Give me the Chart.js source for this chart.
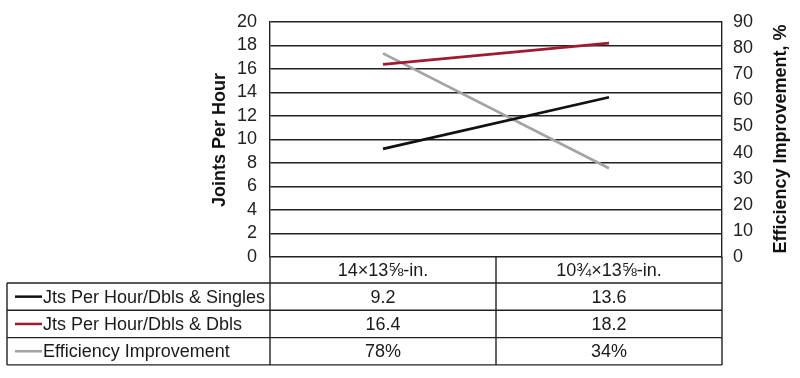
<!DOCTYPE html>
<html>
<head>
<meta charset="utf-8">
<script src="https://cdn.jsdelivr.net/npm/chart.js@4/dist/chart.umd.min.js"></script>
<style>
  html, body { margin: 0; padding: 0; background: #fff; }
  #wrap { width: 800px; height: 378px; }
</style>
</head>
<body>
<div id="wrap"><canvas id="c" width="800" height="378"></canvas></div>
<script>
// data
const categories = ['14×13⅝-in.', '10¾×13⅝-in.'];
const seriesNames = ['Jts Per Hour/Dbls & Singles', 'Jts Per Hour/Dbls & Dbls', 'Efficiency Improvement'];
const jtsSingles = [9.2, 13.6];
const jtsDoubles = [16.4, 18.2];
const efficiency = [78, 34];
const tableRows = [
  jtsSingles.map(v => v.toFixed(1)),
  jtsDoubles.map(v => v.toFixed(1)),
  efficiency.map(v => v + '%')
];

const FONT = '"Liberation Sans", Arial, Helvetica, sans-serif';
const colors = ['#111111', '#9e1c32', '#a3a3a3'];

// table + rotated axis titles
const tablePlugin = {
  id: 'dataTable',
  afterDraw(chart) {
    const ctx = chart.ctx;
    const area = chart.chartArea;
    const xs = chart.scales.x;
    const centers = categories.map((c, i) => xs.getPixelForValue(i));
    const edges = [area.left];
    for (let i = 0; i < centers.length - 1; i++) edges.push((centers[i] + centers[i + 1]) / 2);
    edges.push(area.right);

    const tableLeft = 7;
    const headTop = area.bottom;
    const headBottom = 283;
    const rowH = 27.3;
    const tableBottom = headBottom + rowH * tableRows.length;

    ctx.save();
    ctx.strokeStyle = '#222';
    ctx.lineWidth = 1.4;
    ctx.beginPath();
    edges.forEach(x => { ctx.moveTo(x, headTop); ctx.lineTo(x, tableBottom); });
    for (let r = 0; r <= tableRows.length; r++) {
      const y = headBottom + r * rowH;
      ctx.moveTo(tableLeft, y); ctx.lineTo(area.right, y);
    }
    ctx.moveTo(tableLeft, headBottom); ctx.lineTo(tableLeft, tableBottom);
    ctx.stroke();

    ctx.fillStyle = '#1a1a1a';
    ctx.font = '18px ' + FONT;
    ctx.textBaseline = 'middle';
    ctx.textAlign = 'center';
    categories.forEach((c, i) => ctx.fillText(c, centers[i], (headTop + headBottom) / 2 + 1));
    tableRows.forEach((row, r) => {
      const yMid = headBottom + r * rowH + rowH / 2 + 1;
      row.forEach((v, i) => ctx.fillText(v, centers[i], yMid));
    });

    // legend cells
    ctx.textAlign = 'left';
    seriesNames.forEach((name, r) => {
      const yMid = headBottom + r * rowH + rowH / 2;
      ctx.strokeStyle = colors[r];
      ctx.lineWidth = 2.5;
      ctx.beginPath();
      ctx.moveTo(15, yMid); ctx.lineTo(42, yMid);
      ctx.stroke();
      ctx.fillStyle = '#1a1a1a';
      ctx.fillText(name, 43, yMid + 1);
    });

    // axis titles, both reading bottom to top
    ctx.font = 'bold 18px ' + FONT;
    ctx.textAlign = 'center';
    ctx.fillStyle = '#111';
    ctx.save();
    ctx.translate(220, 140);
    ctx.rotate(-Math.PI / 2);
    ctx.fillText('Joints Per Hour', 0, 0);
    ctx.restore();
    ctx.save();
    ctx.translate(781, 139);
    ctx.rotate(-Math.PI / 2);
    ctx.fillText('Efficiency Improvement, %', 0, 0);
    ctx.restore();
    ctx.restore();
  }
};

new Chart(document.getElementById('c'), {
  type: 'line',
  data: {
    labels: categories,
    datasets: [
      { label: seriesNames[0], data: jtsSingles, yAxisID: 'y', borderColor: colors[0], borderWidth: 2.7 },
      { label: seriesNames[1], data: jtsDoubles, yAxisID: 'y', borderColor: colors[1], borderWidth: 2.7 },
      { label: seriesNames[2], data: efficiency, yAxisID: 'y2', borderColor: colors[2], borderWidth: 2.7 }
    ]
  },
  options: {
    responsive: false,
    animation: false,
    elements: { point: { radius: 0 }, line: { tension: 0 } },
    layout: { padding: { left: 0, right: 0, top: 20, bottom: 121 } },
    plugins: { legend: { display: false }, tooltip: { enabled: false } },
    scales: {
      x: { display: false, offset: true },
      y: {
        position: 'left', min: 0, max: 20,
        ticks: { stepSize: 2, autoSkip: false, color: '#222', padding: 13, font: { family: FONT, size: 18, lineHeight: 1 } },
        grid: { color: '#222', lineWidth: 1.4, drawTicks: false },
        border: { display: true, color: '#222', width: 1.4 },
        afterFit(s) { s.width = 270; }
      },
      y2: {
        position: 'right', min: 0, max: 90,
        ticks: { stepSize: 10, autoSkip: false, color: '#222', padding: 11, font: { family: FONT, size: 18, lineHeight: 1 } },
        grid: { display: false, drawTicks: false },
        border: { display: true, color: '#222', width: 1.4 },
        afterFit(s) { s.width = 78; }
      }
    }
  },
  plugins: [tablePlugin]
});
</script>
</body>
</html>
